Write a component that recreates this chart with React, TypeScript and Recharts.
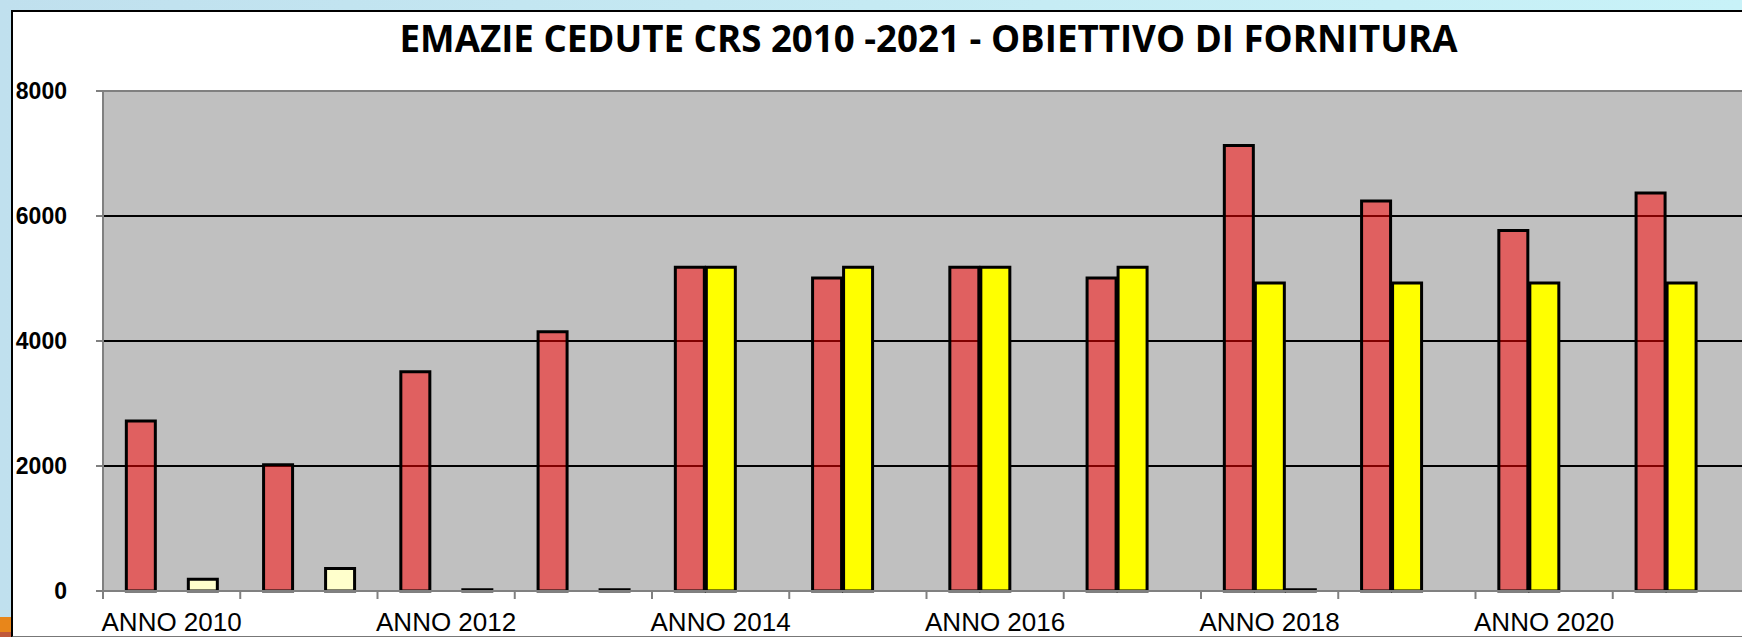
import {
  BarChart, Bar, XAxis, YAxis, CartesianGrid, ReferenceLine
} from 'recharts';

const years = [
  'ANNO 2010', 'ANNO 2011', 'ANNO 2012', 'ANNO 2013', 'ANNO 2014', 'ANNO 2015',
  'ANNO 2016', 'ANNO 2017', 'ANNO 2018', 'ANNO 2019', 'ANNO 2020', 'ANNO 2021',
];
const cedute = [2720, 2020, 3510, 4150, 5180, 5010, 5180, 5010, 7130, 6240, 5770, 6370];
const obiettivo = [0, 0, 0, 0, 5180, 5180, 5180, 5180, 4930, 4930, 4930, 4930];
const altre = [190, 360, 20, 20, 0, 0, 0, 0, 20, 0, 0, 0];
const yTicks = [0, 2000, 4000, 6000, 8000];

const data = years.map((anno, i) => ({
  anno,
  cedute: cedute[i],
  obiettivo: obiettivo[i],
  altre: altre[i],
}));

// layout
const W = 1760;
const H = 637;
const M = { top: 91, right: 10, bottom: 0, left: 0 };
const Y_W = 103;
const X_H = 46;
const BAND = (W - M.left - M.right - Y_W) / years.length;
const FONT = '"Liberation Sans", Arial, sans-serif';

function XTick(props: any) {
  const { x, y, payload } = props;
  const edge = x - BAND / 2;
  const axisY = y - 10;
  return (
    <g>
      <line x1={edge} x2={edge} y1={axisY} y2={axisY + 8} stroke="#808080" strokeWidth={2} />
      {payload.index % 2 === 0 && (
        <text x={x} y={axisY + 40} textAnchor="middle" fontSize={26} fontFamily={FONT} fill="#000">
          {payload.value}
        </text>
      )}
    </g>
  );
}

export default function App() {
  return (
    <div
      style={{
        position: 'fixed', left: 0, top: 0, width: 1742, height: 637, overflow: 'hidden',
        background: 'linear-gradient(90deg, #c0e0ee 0%, #c6ecf4 60%, #c8f2f8 100%)',
      }}
    >
      <div
        style={{
          position: 'absolute', left: 11, top: 10, width: 1800, height: 624,
          background: '#fff', borderTop: '2px solid #000', borderLeft: '2px solid #000',
          borderBottom: '2px solid #777',
        }}
      />
      <div style={{ position: 'absolute', left: 0, top: 617, width: 11, height: 15, background: '#e8861a' }} />
      <div style={{ position: 'absolute', left: 0, top: 632, width: 11, height: 5, background: '#c0583a' }} />
      <svg style={{ position: 'absolute', left: 0, top: 0 }} width={1742} height={80}>
        <text
          x={928.5} y={52} textAnchor="middle" fontSize={37} fontWeight="bold"
          fontFamily='"Open Sans", sans-serif' fill="#000"
          textLength={1058} lengthAdjust="spacingAndGlyphs"
        >
          EMAZIE CEDUTE CRS 2010 -2021 - OBIETTIVO DI FORNITURA
        </text>
      </svg>
      <div style={{ position: 'absolute', left: 0, top: 0 }}>
        <BarChart
          width={W} height={H} data={data} margin={M}
          barCategoryGap="17%" barGap={2}
        >
          <CartesianGrid vertical={false} stroke="#000" strokeWidth={2} fill="#c0c0c0" fillOpacity={1} />
          <XAxis
            dataKey="anno" height={X_H} interval={0} tickLine={false}
            tickSize={8} tickMargin={2}
            axisLine={{ stroke: '#808080', strokeWidth: 2 }}
            tick={<XTick />}
          />
          <YAxis
            width={Y_W} domain={[0, 8000]} ticks={yTicks} interval={0}
            tickSize={7} tickMargin={29}
            axisLine={{ stroke: '#808080', strokeWidth: 2 }}
            tickLine={{ stroke: '#808080', strokeWidth: 2 }}
            tick={{ fill: '#000', fontSize: 23, fontWeight: 'bold', fontFamily: FONT }}
          />
          <ReferenceLine y={8000} stroke="#808080" strokeWidth={2} />
          <Bar dataKey="cedute" name="Emazie cedute" fill="#ff0000" fillOpacity={0.5}
            stroke="#000" strokeWidth={3} isAnimationActive={false} />
          <Bar dataKey="obiettivo" name="Obiettivo di fornitura" fill="#ffff00"
            stroke="#000" strokeWidth={3} isAnimationActive={false} />
          <Bar dataKey="altre" name="Altre" fill="#ffffcc"
            stroke="#000" strokeWidth={3} isAnimationActive={false} />
        </BarChart>
      </div>
    </div>
  );
}
